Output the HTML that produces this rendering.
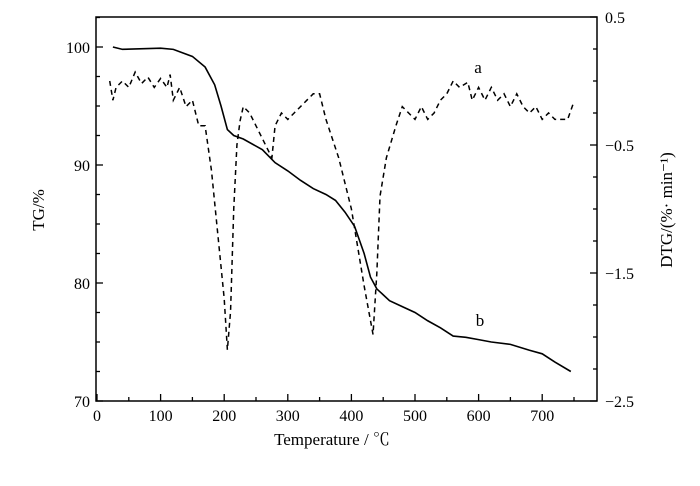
<!DOCTYPE html>
<html><head><meta charset="utf-8"><style>
body{margin:0;background:#fff}
svg text{font-family:"Liberation Serif","Noto Serif CJK SC",serif;fill:#000}
</style></head><body>
<svg id="chart" width="700" height="481" viewBox="0 0 700 481" xmlns="http://www.w3.org/2000/svg"></svg>
<script>
const tgTemps=[25,40,100,120,150,170,185,195,205,215,230,260,280,300,320,340,360,375,390,405,420,430,440,460,480,500,520,540,560,580,600,620,650,680,700,720,745];
const tgValues=[100,99.8,99.9,99.8,99.2,98.3,96.8,95,93,92.5,92.2,91.3,90.2,89.5,88.7,88.0,87.5,87.0,86,84.8,82.5,80.5,79.5,78.5,78.0,77.5,76.8,76.2,75.5,75.4,75.2,75.0,74.8,74.3,74.0,73.3,72.5];
const dtgTemps=[20,25,30,40,50,60,70,80,90,100,110,115,120,130,140,150,160,170,180,190,200,205,210,215,220,225,230,240,250,260,275,280,290,300,310,320,330,340,350,360,370,380,390,400,410,420,434,440,445,455,470,480,490,500,510,520,530,540,550,560,570,583,590,600,610,620,630,640,650,660,670,680,690,700,710,720,730,740,750];
const dtgValues=[0,-0.15,-0.05,0,-0.05,0.07,-0.02,0.03,-0.05,0.02,-0.05,0.05,-0.15,-0.05,-0.2,-0.15,-0.35,-0.35,-0.7,-1.2,-1.7,-2.1,-1.8,-1.0,-0.5,-0.31,-0.2,-0.25,-0.35,-0.45,-0.6,-0.35,-0.25,-0.3,-0.25,-0.2,-0.15,-0.1,-0.1,-0.3,-0.45,-0.6,-0.8,-1.0,-1.3,-1.6,-1.98,-1.5,-0.9,-0.6,-0.35,-0.2,-0.25,-0.3,-0.2,-0.3,-0.25,-0.15,-0.1,0,-0.05,-0.01,-0.15,-0.05,-0.15,-0.05,-0.15,-0.1,-0.2,-0.1,-0.2,-0.25,-0.2,-0.3,-0.25,-0.3,-0.3,-0.3,-0.16];
const xTicks=[0,100,200,300,400,500,600,700];
const yLeftTicks=[70,80,90,100];
const yRightTicks=[0.5,-0.5,-1.5,-2.5];
const yRightLabels=["0.5","\u22120.5","\u22121.5","\u22122.5"];

const L=96,R=597,T=17,B=401;
const X=t=>97+t*0.636;
const YL=v=>401-(v-70)*11.8;
const YR=v=>17+(0.5-v)*128;
const svg=document.getElementById('chart');
const NS='http://www.w3.org/2000/svg';
function mk(tag,attrs){const e=document.createElementNS(NS,tag);for(const k in attrs)e.setAttribute(k,attrs[k]);svg.appendChild(e);return e;}

let f=mk('rect',{x:L,y:T,width:R-L,height:B-T,fill:'none',stroke:'#000','stroke-width':1.5});



for(let t=0;t<=780;t+=50){const x=X(t);if(x>R-2)break;const major=t%100===0;
 let l=mk('line',{x1:x,x2:x,y1:B,y2:B-(major?7:4),stroke:'#000','stroke-width':1.3});
 
 }
xTicks.forEach(t=>{let e=mk('text',{x:X(t),y:B+20,'text-anchor':'middle','font-size':16});e.textContent=t;
 
 });
for(let v=70;v<=102.5;v+=2.5){const y=YL(v);const major=v%10===0;
 let l=mk('line',{x1:L,x2:L+(major?7:4),y1:y,y2:y,stroke:'#000','stroke-width':1.3});
 
 }
yLeftTicks.forEach(v=>{let e=mk('text',{x:L-6,y:YL(v)+6,'text-anchor':'end','font-size':16});e.textContent=v;
 
 });
for(let v=0.5;v>=-2.5;v-=0.25){const y=YR(v);const major=Math.abs((v-0.5)%1)<1e-6;
 let l=mk('line',{x1:R,x2:R-(major?7:4),y1:y,y2:y,stroke:'#000','stroke-width':1.3});
 
 }
yRightTicks.forEach((v,i)=>{let e=mk('text',{x:R+8,y:YR(v)+6,'font-size':16});e.textContent=yRightLabels[i];
 
 });

let tg=mk('polyline',{points:tgTemps.map((t,i)=>X(t)+','+YL(tgValues[i])).join(' '),fill:'none',stroke:'#000','stroke-width':1.6});


let dtg=mk('polyline',{points:dtgTemps.map((t,i)=>X(t)+','+YR(dtgValues[i])).join(' '),fill:'none',stroke:'#000','stroke-width':1.5,'stroke-dasharray':'5 4'});



function txt(s,attrs,name){const e=mk('text',attrs);e.textContent=s;
 
 return e;}
txt('a',{x:478,y:73,'text-anchor':'middle','font-size':17},'label-a');
txt('b',{x:480,y:326,'text-anchor':'middle','font-size':17},'label-b');
txt('Temperature / \u2103',{x:332,y:445,'text-anchor':'middle','font-size':17},'x-axis-title');
txt('TG/%',{x:44,y:210,'text-anchor':'middle','font-size':17,transform:'rotate(-90 44 210)'},'y-left-axis-title');
txt('DTG/(%\u00b7 min\u207b\u00b9)',{x:672,y:210,'text-anchor':'middle','font-size':17,transform:'rotate(-90 672 210)'},'y-right-axis-title');
</script>
</body></html>
